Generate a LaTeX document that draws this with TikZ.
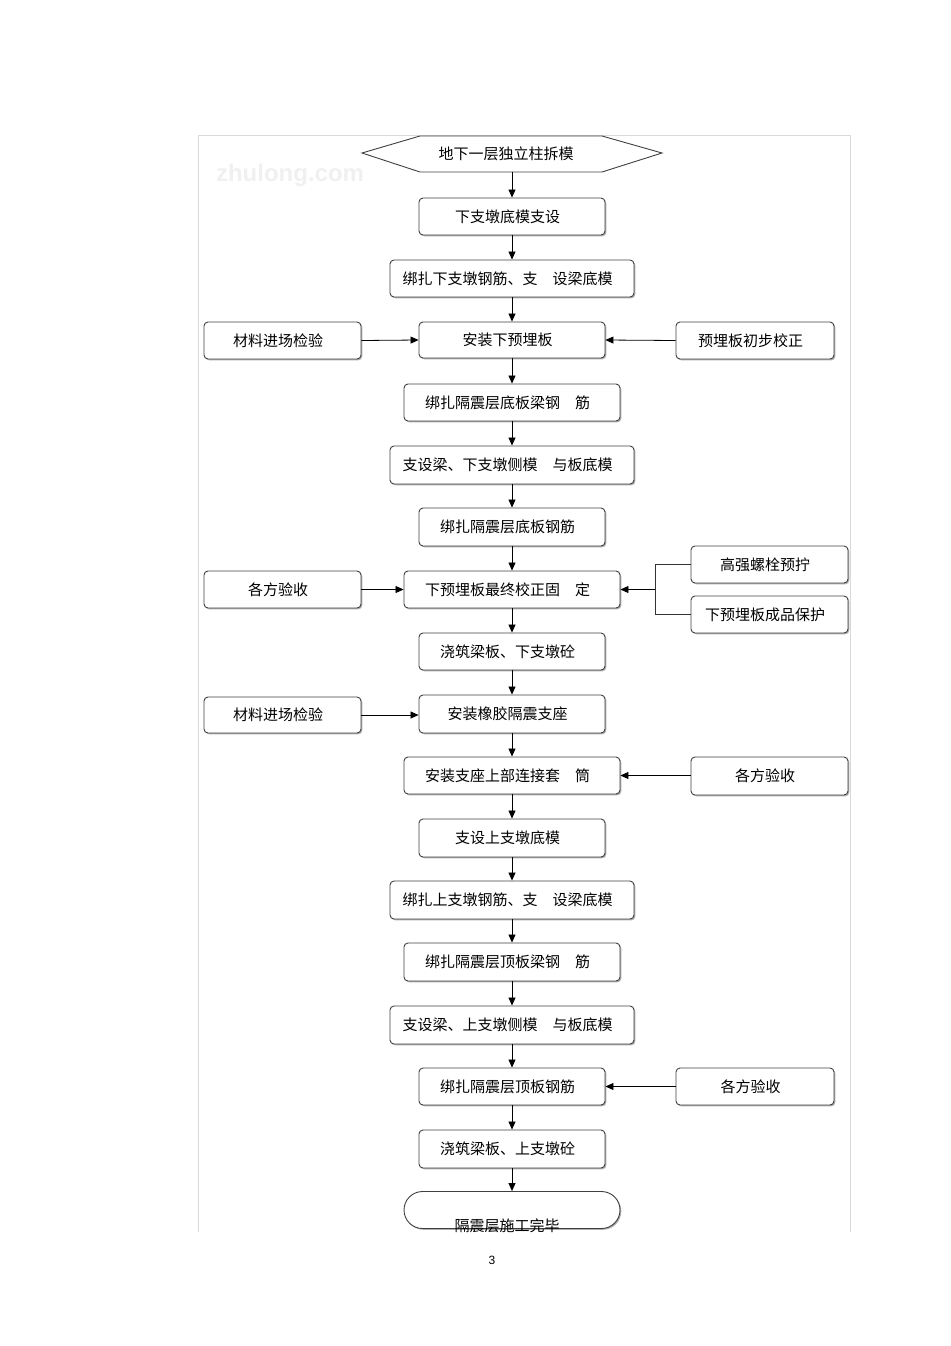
\documentclass[tikz,border=0pt]{standalone}
\usepackage{fontspec}
\newfontfamily\cjk{Noto Sans CJK SC}
\newfontfamily\lsans{Liberation Sans}
\usetikzlibrary{arrows.meta,shapes.misc,shadows}
\begin{document}
\begin{tikzpicture}[x=1pt,y=-1pt,
  every node/.style={font=\cjk\fontsize{15}{17}\selectfont, inner sep=0pt},
  box/.style={draw=black!75, line width=0.9pt, rounded corners=4pt, fill=white,
     execute at end node={\hspace*{9pt}},
     drop shadow={shadow xshift=1.3pt, shadow yshift=-1.3pt, fill=black!40, opacity=0.8}},
  arr/.style={draw=black, line width=0.8pt, -{Triangle[length=8pt,width=7pt]}},
  ln/.style={draw=black!80, line width=0.8pt}
]
\useasboundingbox (0,0) rectangle (950,1346);
% frame
\draw[black!15, line width=0.8pt] (198,1232) -- (198,135) -- (850,135) -- (850,1232);
% watermark
\node[font=\lsans\bfseries\fontsize{24}{26}\selectfont, text=blue!8!black!6] (wm) at (290,175) {zhulong.com};

% hexagon start
\draw[draw=black!75, line width=0.9pt, fill=white] (362,153) -- (420,136) -- (602,136) -- (662,153) -- (602,172) -- (420,172) -- cycle;
\node (n1) at (512,154) [minimum width=300, minimum height=36] {地下一层独立柱拆模\hspace*{12pt}};

\node[box, minimum width=186, minimum height=37] (n2) at (512,216.5) {下支墩底模支设};
\node[box, minimum width=244, minimum height=37] (n3) at (512,278.5) {绑扎下支墩钢筋、支　设梁底模};
\node[box, minimum width=186, minimum height=36] (n4) at (512,340) {安装下预埋板};
\node[box, minimum width=157, minimum height=37] (l4) at (282.5,340.5) {材料进场检验};
\node[box, minimum width=158, minimum height=37] (r4) at (755,340.5) {预埋板初步校正};
\node[box, minimum width=216, minimum height=37] (n5) at (512,402.5) {绑扎隔震层底板梁钢　筋};
\node[box, minimum width=244, minimum height=38] (n6) at (512,465) {支设梁、下支墩侧模　与板底模};
\node[box, minimum width=186, minimum height=38] (n7) at (512,527) {绑扎隔震层底板钢筋};
\node[box, minimum width=216, minimum height=37] (n8) at (512,589.5) {下预埋板最终校正固　定};
\node[box, minimum width=157, minimum height=37] (l8) at (282.5,589.5) {\raisebox{-2pt}{各方验收}};
\node[box, minimum width=157, minimum height=37] (g1) at (769.5,564.5) {\raisebox{-2pt}{高强螺栓预拧}};
\node[box, minimum width=157, minimum height=37] (g2) at (769.5,614.5) {\raisebox{-2pt}{下预埋板成品保护}};
\coordinate (bx) at (655,589.5);
\node[box, minimum width=186, minimum height=37] (n9) at (512,651.5) {浇筑梁板、下支墩砼};
\node[box, minimum width=186, minimum height=38] (n10) at (512,714) {安装橡胶隔震支座};
\node[box, minimum width=157, minimum height=36] (l10) at (282.5,715) {材料进场检验};
\node[box, minimum width=216, minimum height=37] (n11) at (512,775.5) {安装支座上部连接套　筒};
\node[box, minimum width=157, minimum height=38] (r11) at (769.5,776) {\raisebox{-3pt}{各方验收}};
\node[box, minimum width=186, minimum height=38] (n12) at (512,838) {支设上支墩底模};
\node[box, minimum width=244, minimum height=38] (n13) at (512,900) {绑扎上支墩钢筋、支　设梁底模};
\node[box, minimum width=216, minimum height=38] (n14) at (512,962) {绑扎隔震层顶板梁钢　筋};
\node[box, minimum width=244, minimum height=38] (n15) at (512,1025) {支设梁、上支墩侧模　与板底模};
\node[box, minimum width=186, minimum height=37] (n16) at (512,1086.5) {绑扎隔震层顶板钢筋};
\node[box, minimum width=158, minimum height=37] (r16) at (755,1086.5) {\raisebox{-3pt}{各方验收}};
\node[box, minimum width=186, minimum height=38] (n17) at (512,1149) {浇筑梁板、上支墩砼};
\node[draw=black!75, line width=0.9pt, rounded rectangle, fill=white,
     drop shadow={shadow xshift=1.3pt, shadow yshift=-1.3pt, fill=black!40, opacity=0.8},
     minimum width=216, minimum height=37] (n18) at (512,1210) {};
\node (n18t) at (507,1226) {隔震层施工完毕};

% main arrows
\draw[arr] (512,172) -- (n2.north);
\draw[arr] (n2) -- (n3);
\draw[arr] (n3) -- (n4);
\draw[arr] (n4) -- (n5);
\draw[arr] (n5) -- (n6);
\draw[arr] (n6) -- (n7);
\draw[arr] (n7) -- (n8);
\draw[arr] (n8) -- (n9);
\draw[arr] (n9) -- (n10);
\draw[arr] (n10) -- (n11);
\draw[arr] (n11) -- (n12);
\draw[arr] (n12) -- (n13);
\draw[arr] (n13) -- (n14);
\draw[arr] (n14) -- (n15);
\draw[arr] (n15) -- (n16);
\draw[arr] (n16) -- (n17);
\draw[arr] (n17) -- (n18);

% side arrows
\draw[arr] (l4.east) -- (n4.west);
\draw[arr] (r4.west) -- (n4.east);
\draw[arr] (l8.east) -- (n8.west);
\draw[ln] (g1.west) -| (bx);
\draw[ln] (g2.west) -| (bx);
\draw[arr] (bx) -- (n8.east);
\draw[arr] (l10.east) -- (n10.west |- l10.east);
\draw[arr] (r11.west |- n11.east) -- (n11.east);
\draw[arr] (r16.west) -- (n16.east);

\node[font=\lsans\fontsize{12}{14}\selectfont] (pg) at (492,1260) {3};
\end{tikzpicture}
\end{document}
